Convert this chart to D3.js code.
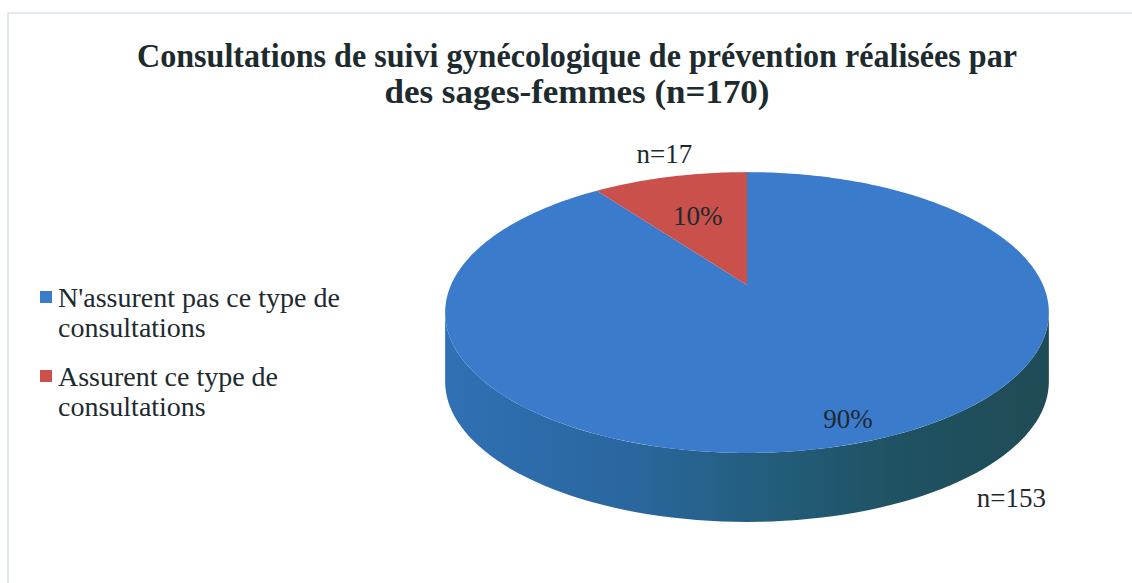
<!DOCTYPE html>
<html lang="fr">
<head>
<meta charset="UTF-8">
<title>Consultations de suivi gynécologique</title>
<script src="https://d3js.org/d3.v7.min.js"></script>
<style>
  body { margin: 0; background: #fff; }
  .title { font-weight: bold; font-size: 34px; fill: #1d2a2e; }
  .legend text { font-size: 28px; fill: #1d2a2e; }
  .lbl { font-size: 27px; fill: #1d2a2e; }
</style>
</head>
<body>
<div id="chart"></div>
<script>
// data
const categories = ["N'assurent pas ce type de consultations", "Assurent ce type de consultations"];
const counts = [153, 17];
const titleLines = ["Consultations de suivi gynécologique de prévention réalisées par", "des sages-femmes (n=170)"];

const colors = ["#3a7bcc", "#c9504b"];
const serif = "'Liberation Serif', 'Times New Roman', Times, 'DejaVu Serif', serif";

const width = 1132, height = 583;

// pie geometry (simple perspective projection of a flat disk)
const cx = 747, cy = 285;      // projected centre of the disk
const A = 135, B = 296;        // vertical / horizontal radius factors
const persp = 0.196;           // perspective strength
const depth = 69;              // thickness of the pie

// inner label radius factor and outer label placement, per slice
const innerK = [0.87, 0.6];
const outerPos = [{angle: 140, k: 1.15, dy: depth}, {angle: -16, k: 1.25, dy: 0}];

function project(theta, k) {
  const u = k * Math.sin(theta), d = -k * Math.cos(theta);
  const w = 1 - persp * d;
  return [cx + B * u / w, cy + A * d / w];
}

const svg = d3.select("#chart").append("svg")
  .attr("width", width)
  .attr("height", height)
  .attr("font-family", serif);

// scan frame
svg.append("path")
  .attr("d", `M8,${height} L8,13 L${width},13`)
  .attr("fill", "none")
  .attr("stroke", "#d9e3ea")
  .attr("stroke-width", 1.5);

// title
const titleW = [880, 385];
svg.append("text")
  .attr("class", "title")
  .attr("font-family", serif)
  .attr("text-anchor", "middle")
  .selectAll("tspan")
  .data(titleLines)
  .join("tspan")
  .attr("x", 577)
  .attr("y", (d, i) => 67 + i * 36)
  .attr("textLength", (d, i) => titleW[i])
  .attr("lengthAdjust", "spacingAndGlyphs")
  .text(d => d);

const total = d3.sum(counts);
const pie = d3.pie().sort(null).value(d => d.value);
const arcs = pie(counts.map((v, i) => ({value: v, i: i})));

// side gradient
const grad = svg.append("defs").append("linearGradient")
  .attr("id", "side")
  .attr("gradientUnits", "userSpaceOnUse")
  .attr("x1", cx - B * 1.02).attr("x2", cx + B * 1.02)
  .attr("y1", 0).attr("y2", 0);
grad.selectAll("stop")
  .data([[0, "#3070b4"], [0.3, "#2a679f"], [0.5, "#245f80"], [0.75, "#1f5262"], [1, "#1f4b55"]])
  .join("stop")
  .attr("offset", d => d[0])
  .attr("stop-color", d => d[1]);

// visible front side: between the silhouette angles
const thL = Math.acos(-persp), thR = 2 * Math.PI - thL;
const g = svg.append("g");

arcs.forEach(a => {
  const s = Math.max(a.startAngle, thL), e = Math.min(a.endAngle, thR);
  if (e <= s) return;
  const n = 80;
  const top = d3.range(n + 1).map(j => project(s + (e - s) * j / n, 1));
  const bot = top.slice().reverse().map(p => [p[0], p[1] + depth]);
  g.append("path")
    .attr("d", d3.line()(top.concat(bot)) + "Z")
    .attr("fill", a.index === 0 ? "url(#side)" : d3.color(colors[a.index]).darker(0.8));
});

// top faces
arcs.forEach(a => {
  const n = Math.max(8, Math.ceil((a.endAngle - a.startAngle) * 60));
  const rim = d3.range(n + 1).map(j => project(a.startAngle + (a.endAngle - a.startAngle) * j / n, 1));
  g.append("path")
    .attr("d", d3.line()([[cx, cy]].concat(rim)) + "Z")
    .attr("fill", colors[a.index]);
});

// percentage labels
arcs.forEach(a => {
  const mid = (a.startAngle + a.endAngle) / 2;
  const p = project(mid, innerK[a.index]);
  g.append("text")
    .attr("class", "lbl")
    .attr("font-family", serif)
    .attr("x", p[0] + (a.index === 0 ? 6 : 0)).attr("y", p[1])
    .attr("dy", "0.35em")
    .attr("text-anchor", "middle")
    .text(d3.format(".0%")(a.value / total));
});

// count labels
arcs.forEach(a => {
  const o = outerPos[a.index];
  const p = project(o.angle * Math.PI / 180, o.k);
  g.append("text")
    .attr("class", "lbl")
    .attr("font-family", serif)
    .attr("x", p[0]).attr("y", p[1] + o.dy)
    .attr("dy", "0.35em")
    .attr("text-anchor", "middle")
    .text("n=" + a.value);
});

// legend
const legend = svg.append("g").attr("class", "legend");
const itemY = [307, 386];
categories.forEach((c, i) => {
  const item = legend.append("g").attr("transform", `translate(40,${itemY[i]})`);
  item.append("rect")
    .attr("x", 0).attr("y", -16)
    .attr("width", 12).attr("height", 12)
    .attr("fill", colors[i]);
  const t = item.append("text").attr("font-family", serif).attr("x", 18).attr("y", 0);
  // wrap words to ~300px
  const words = c.split(" ");
  let line = [];
  let tspan = t.append("tspan").attr("x", 18).attr("dy", 0);
  words.forEach(w => {
    line.push(w);
    tspan.text(line.join(" "));
    if (tspan.node().getComputedTextLength() > 300 && line.length > 1) {
      line.pop();
      tspan.text(line.join(" "));
      line = [w];
      tspan = t.append("tspan").attr("x", 18).attr("dy", 30).text(w);
    }
  });
});
</script>
</body>
</html>
